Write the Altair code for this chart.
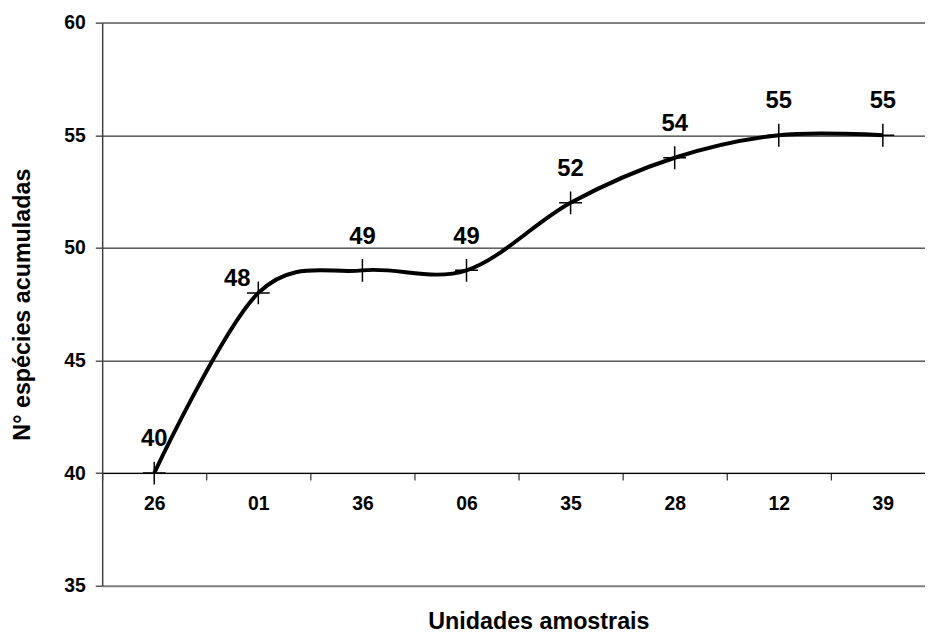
import altair as alt
import pandas as pd

categories = ["26", "01", "36", "06", "35", "28", "12", "39"]
species = [40, 48, 49, 49, 52, 54, 55, 55]
y_ticks = [35, 40, 45, 50, 55, 60]

df = pd.DataFrame({
    "idx": list(range(len(categories))),
    "cat": categories,
    "val": species,
})

FONT = "Liberation Sans"
W, H = 830, 568
Y0, Y1 = 35, 60
BAND = 105.0
x_domain = [-0.5, -0.5 + W / BAND]
x_offset = -(40 - Y0) * H / (Y1 - Y0)

cat_array = "[" + ",".join("'" + c + "'" for c in categories) + "]"
x_values = [-0.5 + 0.5 * k for k in range(2 * len(categories))]

x_axis = alt.Axis(
    orient="bottom",
    offset=x_offset,
    values=x_values,
    labelExpr="datum.value % 1 === 0 ? " + cat_array + "[datum.value] : ''",
    labelOverlap=False,
    labelFlush=False,
    labelFont=FONT,
    labelFontSize=19.5,
    labelFontWeight="bold",
    labelColor="black",
    labelPadding=15,
    tickOpacity={"condition": {"test": "datum.value % 1 !== 0", "value": 1}, "value": 0},
    tickColor="black",
    tickSize=7,
    tickWidth=1,
    domainColor="black",
    domainWidth=1,
    grid=False,
    title="Unidades amostrais",
    titleFont=FONT,
    titleFontSize=23.5,
    titleFontWeight="bold",
    titleColor="black",
    titleX=440,
    titleY=157,
    titleAlign="center",
    titleBaseline="alphabetic",
)

border_test = "datum.value === 35 || datum.value === 60"
y_axis = alt.Axis(
    values=y_ticks,
    grid=True,
    gridColor={"condition": {"test": border_test, "value": "#808080"}, "value": "#000000"},
    gridWidth={"condition": {"test": border_test, "value": 2}, "value": 1},
    gridOpacity=1,
    domainColor="#404040",
    domainWidth=1.5,
    tickColor="black",
    tickSize=7,
    tickWidth=1,
    labelFont=FONT,
    labelFontSize=19.5,
    labelFontWeight="bold",
    labelColor="black",
    labelPadding=10,
    title="N° espécies acumuladas",
    titleFont=FONT,
    titleFontSize=23.5,
    titleFontWeight="bold",
    titleColor="black",
    titleX=-73,
    titleY=H / 2,
    titleAngle=270,
    titleAlign="center",
    titleBaseline="alphabetic",
)

x_enc = alt.X("idx:Q", scale=alt.Scale(domain=x_domain, nice=False, zero=False), axis=x_axis)
y_enc = alt.Y("val:Q", scale=alt.Scale(domain=[Y0, Y1], nice=False, zero=False), axis=y_axis)

base = alt.Chart(df)

line = base.mark_line(interpolate="cardinal", color="black", strokeWidth=4).encode(x=x_enc, y=y_enc)

points = base.mark_point(
    shape="M-1,0L1,0M0,-1L0,1",
    size=529,
    filled=False,
    stroke="black",
    strokeWidth=1.5,
    opacity=1,
).encode(x="idx:Q", y="val:Q")

labels = base.transform_filter("datum.idx !== 1").mark_text(
    font=FONT, fontSize=24, fontWeight="bold", color="black",
    baseline="alphabetic", align="center", dy=-27,
).encode(x="idx:Q", y="val:Q", text="val:Q")

label_left = base.transform_filter("datum.idx === 1").mark_text(
    font=FONT, fontSize=24, fontWeight="bold", color="black",
    baseline="alphabetic", align="right", dx=-8, dy=-7,
).encode(x="idx:Q", y="val:Q", text="val:Q")

chart = alt.layer(line, points, labels, label_left).properties(
    width=W,
    height=H,
    autosize=alt.AutoSizeParams(type="none"),
    padding={"left": 95, "top": 12, "right": 0, "bottom": 47},
    background="white",
).configure_view(stroke=None)

chart.save("out.html", embed_options={"renderer": "svg", "actions": False})
